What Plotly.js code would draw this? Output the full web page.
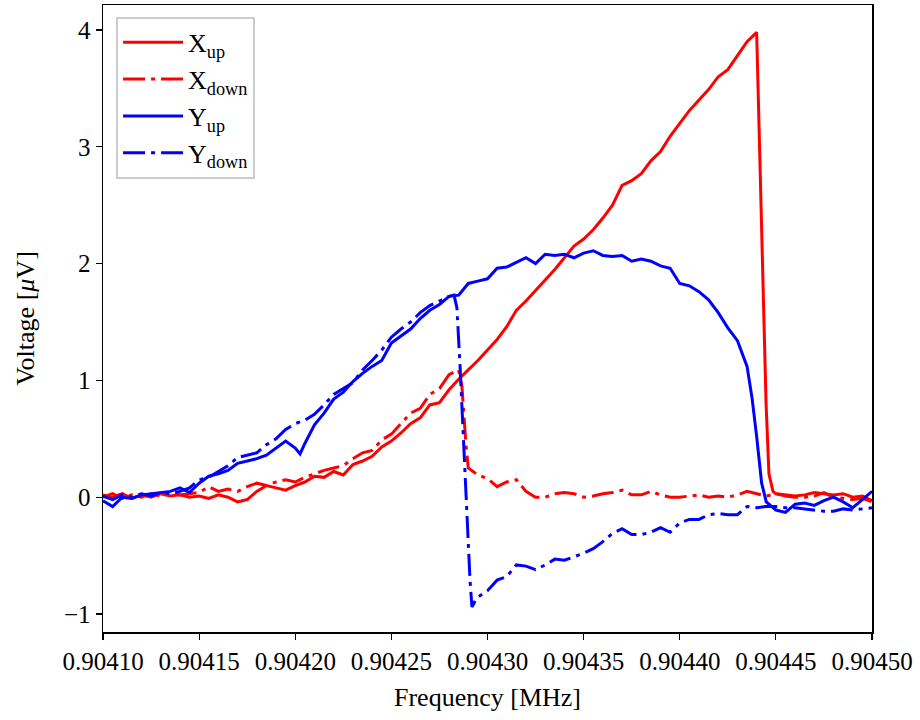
<!DOCTYPE html>
<html>
<head>
<meta charset="utf-8">
<script src="https://cdn.plot.ly/plotly-3.0.1.min.js"></script>
<style>html,body{margin:0;padding:0;background:#fff;}#chart{width:920px;height:720px;}</style>
</head>
<body>
<div id="chart"></div>
<script>
// ---- data (frequency in MHz, voltage in µV) ----
const freqXup = [0.90410,0.904105,0.90411,0.904115,0.90412,0.904125,0.90413,0.904135,0.90414,0.904145,
  0.90415,0.904155,0.90416,0.904165,0.90417,0.904175,0.90418,0.904185,0.90419,0.904195,
  0.90420,0.904205,0.90421,0.904215,0.90422,0.904225,0.90423,0.904235,0.90424,0.904245,
  0.90425,0.904255,0.90426,0.904265,0.90427,0.904275,0.90428,0.904285,0.90429,0.904295,
  0.90430,0.904305,0.90431,0.904315,0.90432,0.904325,0.90433,0.904335,0.90434,0.904345,
  0.90435,0.904355,0.90436,0.904365,0.90437,0.904375,0.90438,0.904385,0.90439,0.904395,
  0.90440,0.904405,0.90441,0.904415,0.90442,0.904425,0.90443,0.904435,0.90444,
  0.9044433,0.9044449,0.9044464,0.9044485,
  0.90445,0.904455,0.90446,0.904465,0.90447,0.904475,0.90448,0.904485,0.90449,0.904495,0.90450];
const Xup = [0.02,0.00,0.03,-0.01,0.02,0.00,0.03,0.01,0.02,0.00,
  0.01,-0.01,0.02,0.00,-0.04,-0.02,0.05,0.10,0.08,0.06,
  0.10,0.13,0.18,0.17,0.22,0.19,0.28,0.31,0.35,0.43,
  0.48,0.55,0.63,0.68,0.79,0.81,0.92,1.01,1.09,1.17,
  1.26,1.35,1.46,1.60,1.68,1.77,1.86,1.95,2.05,2.15,
  2.21,2.29,2.39,2.50,2.67,2.71,2.77,2.88,2.96,3.09,
  3.20,3.31,3.40,3.49,3.60,3.66,3.78,3.90,3.98,
  1.70,0.80,0.20,0.05,
  0.03,0.02,0.01,0.02,0.04,0.03,0.02,0.03,0.00,0.01,-0.03];

const freqXdown = [0.90410,0.904105,0.90411,0.904115,0.90412,0.904125,0.90413,0.904135,0.90414,0.904145,
  0.90415,0.904155,0.90416,0.904165,0.90417,0.904175,0.90418,0.904185,0.90419,0.904195,
  0.90420,0.904205,0.90421,0.904215,0.90422,0.904225,0.90423,0.904235,0.90424,0.904245,
  0.90425,0.904255,0.90426,0.904265,0.90427,0.904275,0.90428,0.904285,
  0.9042867,0.9042888,
  0.90429,0.904295,
  0.90430,0.904305,0.90431,0.904315,0.90432,0.904325,0.90433,0.904335,0.90434,0.904345,
  0.90435,0.904355,0.90436,0.904365,0.90437,0.904375,0.90438,0.904385,0.90439,0.904395,
  0.90440,0.904405,0.90441,0.904415,0.90442,0.904425,0.90443,0.904435,0.90444,0.904445,
  0.90445,0.904455,0.90446,0.904465,0.90447,0.904475,0.90448,0.904485,0.90449,0.904495,0.90450];
const Xdown = [0.00,0.03,-0.01,0.02,0.00,0.03,0.01,0.04,0.02,0.03,
  0.04,0.09,0.05,0.07,0.05,0.09,0.12,0.10,0.13,0.15,
  0.13,0.17,0.20,0.23,0.25,0.27,0.33,0.38,0.40,0.49,
  0.54,0.63,0.72,0.76,0.88,0.93,1.05,1.09,
  0.95,0.45,
  0.25,0.19,
  0.16,0.09,0.13,0.15,0.05,0.00,0.00,0.03,0.04,0.03,
  0.00,0.01,0.03,0.04,0.06,0.02,0.02,0.05,0.02,0.00,
  0.00,0.01,0.02,0.00,0.01,0.00,0.02,0.05,0.03,0.01,
  0.03,0.01,0.00,0.00,0.01,0.04,0.00,-0.01,-0.02,-0.01,-0.04];

const freqYup = [0.90410,0.904105,0.90411,0.904115,0.90412,0.904125,0.90413,0.904135,0.90414,0.904145,
  0.90415,0.904155,0.90416,0.904165,0.90417,0.904175,0.90418,0.904185,0.90419,0.904195,
  0.90420,0.9042025,0.904205,0.90421,0.904215,0.90422,0.904225,0.90423,0.904235,0.90424,0.904245,
  0.90425,0.904255,0.90426,0.904265,0.90427,0.904275,0.90428,0.904285,0.90429,0.904295,
  0.90430,0.904305,0.90431,0.904315,0.90432,0.904325,0.90433,0.904335,0.90434,0.904345,
  0.90435,0.904355,0.90436,0.904365,0.90437,0.904375,0.90438,0.904385,0.90439,0.904395,
  0.90440,0.904405,0.90441,0.904415,0.90442,0.904425,0.90443,0.904435,0.9044376,0.90444,0.9044426,
  0.904445,0.90445,0.904455,0.90446,0.904465,0.90447,0.904475,0.90448,0.904485,0.90449,0.904495,0.90450];
const Yup = [-0.03,-0.08,0.00,-0.01,0.02,0.03,0.04,0.05,0.08,0.04,
  0.12,0.18,0.20,0.23,0.29,0.31,0.33,0.36,0.42,0.48,
  0.42,0.37,0.46,0.62,0.72,0.84,0.90,0.99,1.06,1.12,1.17,
  1.32,1.38,1.44,1.53,1.60,1.65,1.72,1.73,1.83,1.85,
  1.87,1.96,1.97,2.01,2.05,2.00,2.08,2.07,2.08,2.05,
  2.09,2.11,2.07,2.06,2.07,2.02,2.04,2.02,1.98,1.96,
  1.83,1.81,1.76,1.69,1.58,1.45,1.34,1.12,0.85,0.52,0.12,
  -0.04,-0.11,-0.13,-0.06,-0.05,-0.07,-0.03,0.00,-0.04,-0.09,-0.02,0.05];

const freqYdown = [0.90410,0.904105,0.90411,0.904115,0.90412,0.904125,0.90413,0.904135,0.90414,0.904145,
  0.90415,0.904155,0.90416,0.904165,0.90417,0.904175,0.90418,0.904185,0.90419,0.904195,
  0.90420,0.904205,0.90421,0.904215,0.90422,0.904225,0.90423,0.904235,0.90424,0.904245,
  0.90425,0.904255,0.90426,0.904265,0.90427,0.904275,0.90428,0.9042826,
  0.9042841,0.9042857,0.9042873,0.9042893,0.9042909,0.9042919,0.9042945,
  0.90430,0.904305,0.90431,0.904315,0.90432,0.904325,0.90433,0.904335,0.90434,0.904345,
  0.90435,0.904355,0.90436,0.904365,0.90437,0.904375,0.90438,0.904385,0.90439,0.904395,
  0.90440,0.904405,0.90441,0.904415,0.90442,0.904425,0.90443,0.904435,0.90444,0.904445,
  0.90445,0.904455,0.90446,0.904465,0.90447,0.904475,0.90448,0.904485,0.90449,0.904495,0.90450];
const Ydown = [0.01,-0.02,0.02,0.00,0.03,0.01,0.04,0.03,0.05,0.08,
  0.15,0.17,0.22,0.27,0.34,0.36,0.38,0.45,0.50,0.58,
  0.63,0.66,0.71,0.79,0.88,0.93,0.98,1.09,1.17,1.26,
  1.37,1.44,1.50,1.58,1.64,1.68,1.72,1.73,
  1.62,1.13,0.50,-0.14,-0.71,-0.94,-0.86,
  -0.80,-0.71,-0.68,-0.58,-0.59,-0.62,-0.58,-0.53,-0.54,-0.51,
  -0.48,-0.44,-0.38,-0.31,-0.27,-0.32,-0.32,-0.30,-0.26,-0.30,
  -0.22,-0.19,-0.19,-0.15,-0.14,-0.15,-0.15,-0.08,-0.09,-0.08,
  -0.08,-0.09,-0.09,-0.10,-0.11,-0.12,-0.12,-0.10,-0.11,-0.10,-0.09];

const xTicks = [0.90410,0.90415,0.90420,0.90425,0.90430,0.90435,0.90440,0.90445,0.90450];
const yTicks = [-1,0,1,2,3,4];

const FONT = "Liberation Serif, 'DejaVu Serif', serif";
const DASHDOT = "22px,6px,4px,6px";

const traces = [
  {x: freqXup, y: Xup, name: "X<sub>up</sub>", mode: "lines", line: {color: "#ff0000", width: 3}},
  {x: freqXdown, y: Xdown, name: "X<sub>down</sub>", mode: "lines", line: {color: "#ff0000", width: 3, dash: DASHDOT}},
  {x: freqYup, y: Yup, name: "Y<sub>up</sub>", mode: "lines", line: {color: "#0000ff", width: 3}},
  {x: freqYdown, y: Ydown, name: "Y<sub>down</sub>", mode: "lines", line: {color: "#0000ff", width: 3, dash: DASHDOT}}
];

const layout = {
  width: 920, height: 720,
  margin: {l: 103, r: 48, t: 5, b: 88},
  paper_bgcolor: "#ffffff", plot_bgcolor: "#ffffff",
  font: {family: FONT, size: 25, color: "#000"},
  showlegend: true,
  legend: {x: 0.017, y: 0.981, xanchor: "left", yanchor: "top",
    bgcolor: "rgba(255,255,255,0.85)", bordercolor: "#cccccc", borderwidth: 2,
    font: {family: FONT, size: 26, color: "#000"}, tracegroupgap: 0, itemwidth: 60},
  xaxis: {
    range: [0.90410, 0.90450], tickvals: xTicks, tickformat: ".5f",
    ticks: "outside", ticklen: 6, tickwidth: 1.2, tickcolor: "#000",
    showline: true, linecolor: "#000", linewidth: 1.5, mirror: true,
    showgrid: false, zeroline: false,
    tickfont: {family: FONT, size: 25},
    title: {text: "Frequency [MHz]", font: {family: FONT, size: 26}, standoff: 14}
  },
  yaxis: {
    range: [-1.154, 4.214], tickvals: yTicks,
    ticks: "outside", ticklen: 6, tickwidth: 1.2, tickcolor: "#000",
    showline: true, linecolor: "#000", linewidth: 1.5, mirror: true,
    showgrid: false, zeroline: false,
    tickfont: {family: FONT, size: 25},
    title: {text: "Voltage [<i>μ</i>V]", font: {family: FONT, size: 26}, standoff: 22}
  }
};

Plotly.newPlot("chart", traces, layout, {displayModeBar: false, staticPlot: true});
</script>
</body>
</html>
